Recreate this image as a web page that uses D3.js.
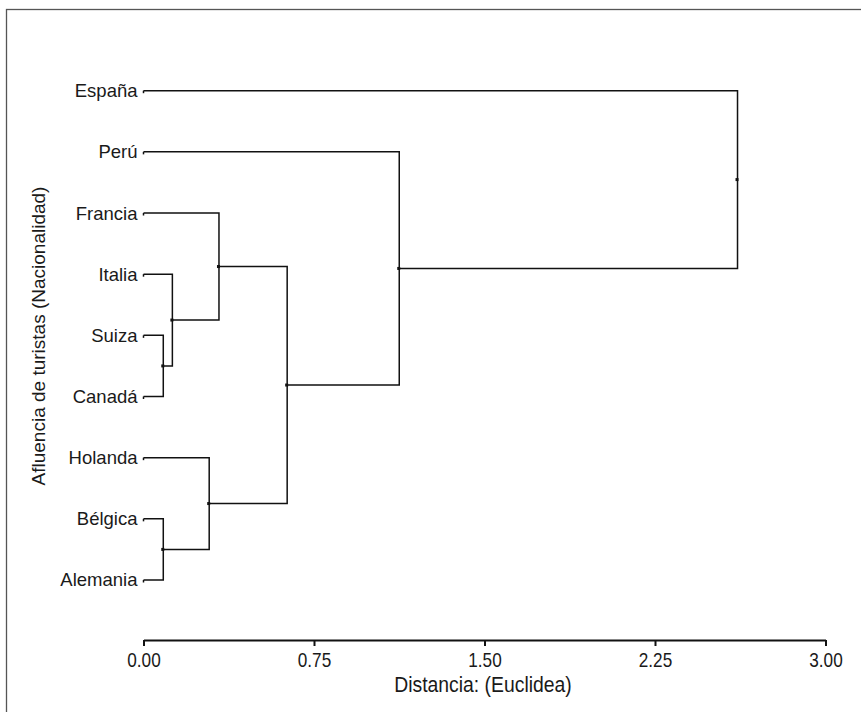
<!DOCTYPE html>
<html lang="es">
<head>
    <meta charset="UTF-8">
    <title>Dendrograma - Afluencia de turistas</title>
    <script src="https://d3js.org/d3.v7.min.js"></script>
    <style>
        body {
            margin: 0;
            padding: 0;
            background-color: #fff;
            font-family: 'Liberation Sans', Arial, sans-serif;
            overflow: hidden;
        }
        .leaf-label {
            font-size: 18.5px;
            fill: #1a1a1a;
        }
        .axis-title {
            font-size: 19px;
            fill: #1a1a1a;
        }
        .link {
            fill: none;
            stroke: #111;
            stroke-width: 1.5;
        }
    </style>
</head>
<body>
    <div id="chart"></div>
    <script>
        // leaves, in the order they are drawn top to bottom
        const leaves = ["España", "Perú", "Francia", "Italia", "Suiza", "Canadá", "Holanda", "Bélgica", "Alemania"];

        // merge steps: child ids (0-8 = leaves, 9+ = earlier merges) and distance
        const mergeLeft   = [4, 7, 3, 6, 2, 13, 1, 0];
        const mergeRight  = [5, 8, 9, 10, 11, 12, 14, 15];
        const mergeHeight = [0.087, 0.087, 0.127, 0.289, 0.332, 0.632, 1.125, 2.613];

        const tickValues = [0, 0.75, 1.5, 2.25, 3];

        const W = 861, H = 712;

        const svg = d3.select("#chart")
                      .append("svg")
                      .attr("width", W)
                      .attr("height", H);

        // frame (right and bottom edges fall outside the picture)
        svg.append("rect")
           .attr("x", 6.5).attr("y", 9.5)
           .attr("width", 1000).attr("height", 1000)
           .style("fill", "none")
           .style("stroke", "#555")
           .style("stroke-width", 1.3);

        const x = d3.scaleLinear().domain([0, 3]).range([143.5, 825.5]);
        const y = d3.scalePoint().domain(leaves).range([90.7, 580]);

        // node positions
        const nodes = leaves.map(d => ({ h: 0, y: y(d) }));
        mergeHeight.forEach((h, i) => {
            const a = nodes[mergeLeft[i]], b = nodes[mergeRight[i]];
            nodes.push({ h: h, y: (a.y + b.y) / 2, a: a, b: b });
        });

        const g = svg.append("g");

        // links: each merge draws a bracket to its two children
        nodes.filter(n => n.a).forEach(n => {
            [n.a, n.b].forEach(c => {
                g.append("path")
                 .attr("class", "link")
                 .attr("d", `M${x(c.h)},${c.y}H${x(n.h)}V${n.y}`);
            });
        });

        // little hooks at leaf ends
        g.selectAll(".hook")
         .data(leaves)
         .enter()
         .append("path")
         .attr("class", "link")
         .attr("d", d => `M${x(0)},${y(d) + 2.5}V${y(d)}`);

        // node dots
        g.selectAll(".dot")
         .data(nodes.filter(n => n.a))
         .enter()
         .append("rect")
         .attr("x", d => x(d.h) - 2)
         .attr("y", d => d.y - 1.5)
         .attr("width", 3)
         .attr("height", 3)
         .style("fill", "#111");

        // leaf labels
        g.selectAll(".leaf-label")
         .data(leaves)
         .enter()
         .append("text")
         .attr("class", "leaf-label")
         .attr("x", 137.5)
         .attr("y", d => y(d))
         .attr("dy", "0.35em")
         .attr("text-anchor", "end")
         .text(d => d);

        // x axis
        const axis = svg.append("g")
                        .attr("transform", "translate(0,640)")
                        .call(d3.axisBottom(x)
                                .tickValues(tickValues)
                                .tickFormat(d3.format(".2f"))
                                .tickSize(6)
                                .tickSizeOuter(0));
        axis.select(".domain").style("stroke", "#111").style("stroke-width", 2);
        axis.selectAll(".tick line").style("stroke", "#111").style("stroke-width", 2);
        axis.selectAll(".tick text")
            .attr("y", 27)
            .attr("dy", null)
            .attr("transform", "scale(0.86,1)")
            .style("font-family", "'Liberation Sans', Arial, sans-serif")
            .style("font-size", "20px")
            .style("fill", "#1a1a1a");

        svg.append("text")
           .attr("class", "axis-title")
           .attr("transform", "translate(483,691.5) scale(0.88,1)")
           .attr("text-anchor", "middle")
           .style("font-size", "22px")
           .text("Distancia: (Euclidea)");

        svg.append("text")
           .attr("class", "axis-title")
           .attr("transform", "translate(45,336) rotate(-90)")
           .attr("text-anchor", "middle")
           .text("Afluencia de turistas (Nacionalidad)");
    </script>
</body>
</html>
